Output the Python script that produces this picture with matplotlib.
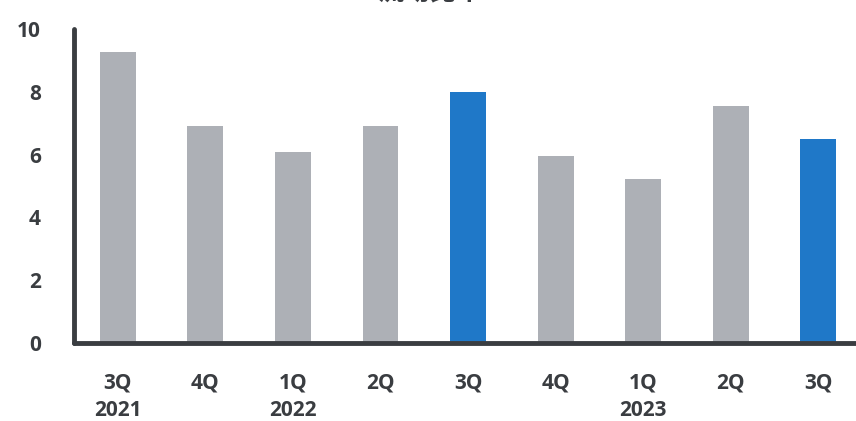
import numpy as np
import matplotlib.pyplot as plt

plt.rcParams['font.family'] = ['Open Sans', 'Noto Sans CJK SC', 'DejaVu Sans']

quarters = ['3Q\n2021', '4Q', '1Q\n2022', '2Q', '3Q', '4Q', '1Q\n2023', '2Q', '3Q']
values = [9.27, 6.90, 6.07, 6.90, 7.99, 5.94, 5.21, 7.54, 6.49]
highlight = [False, False, False, False, True, False, False, False, True]
title_text = '流动比率'

gray = '#adb0b6'
blue = '#1f78c8'
dark = '#3a3d41'
colors = [blue if h else gray for h in highlight]

W, H = 856, 421
fig = plt.figure(figsize=(W / 100, H / 100), dpi=100)
ax = fig.add_axes([74 / W, (H - 343) / H, (W - 74) / W, (343 - 29) / H])

x = np.arange(len(values))
ax.bar(x, values, width=0.41, color=colors, zorder=2)

ax.set_xlim(-0.5, 8.43)
ax.set_ylim(0, 10)
ax.set_yticks([0, 2, 4, 6, 8, 10])
ax.set_xticks(x)
ax.set_xticklabels(quarters, fontsize=15, fontweight='bold', color=dark, linespacing=1.4)
for lab in ax.get_yticklabels():
    lab.set_fontsize(15)
    lab.set_fontweight('bold')
    lab.set_color(dark)
ax.tick_params(axis='x', length=0, pad=21)
ax.tick_params(axis='y', length=0, pad=24)

for s in ['top', 'right']:
    ax.spines[s].set_visible(False)
for s in ['left', 'bottom']:
    ax.spines[s].set_linewidth(3.5)
    ax.spines[s].set_color(dark)
    ax.spines[s].set_capstyle('round')

# title is cut off at the top edge, like in the source picture
fig.text(0.502, 1 + 1 / H, title_text, ha='center', va='baseline', fontsize=19,
         fontweight='bold', color=dark, family=['Noto Sans CJK SC', 'DejaVu Sans'])

fig.savefig('out.png', dpi=100)
